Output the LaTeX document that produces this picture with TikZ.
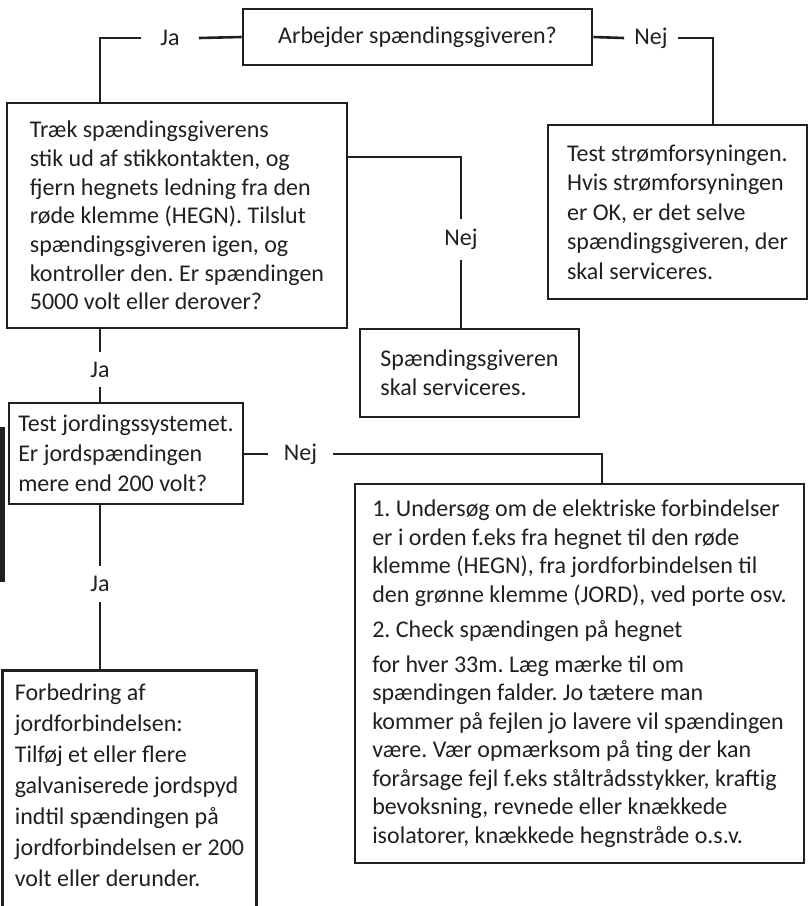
\documentclass[tikz,border=0pt]{standalone}
\usepackage{fontspec}
\setmainfont{Carlito}
\frenchspacing
\usetikzlibrary{positioning,calc}
\definecolor{ink}{HTML}{231F20}
\tikzset{
  every node/.style={font=\fontsize{24}{28.7}\selectfont,text=ink},
  leading/.style={font=\fontsize{24}{#1}\selectfont},
  answer/.style={inner xsep=9pt,inner ysep=8.5pt},
  box/.style={draw=ink,line width=2.6pt,align=left,inner sep=0pt}}
\begin{document}
\begin{tikzpicture}[x=1pt,y=-1pt,line width=2.6pt,draw=ink]
\useasboundingbox (0,0) rectangle (810,906);
\fill[ink] (0,427) rectangle (4.5,582);
% question on top and its two answers
\node[box,align=center,minimum width=349pt,minimum height=56pt] (ask) at (417.5,37) {Arbejder spændingsgiveren?};
\node[answer,inner xsep=18pt] (jaTop) at (170,38) {Ja};
\node[answer] (nejTop) at (651,38) {Nej};
\node[box,minimum width=340pt,minimum height=225pt] (unplug) at (177,215.5) {Træk spændingsgiverens\\stik ud af stikkontakten, og\\fjern hegnets ledning fra den\\røde klemme (HEGN). Tilslut\\spændingsgiveren igen, og\\kontroller den. Er spændingen\\5000 volt eller derover?};
\node[box,leading=29.5,minimum width=259pt,minimum height=174pt] (power) at (677.5,212) {Test strømforsyningen.\\Hvis strømforsyningen\\er OK, er det selve\\spændingsgiveren, der\\skal serviceres.};
\node[answer] (nejMid) at (461,239.5) {Nej};
\node[box,minimum width=219pt,minimum height=88pt] (service) at (469.5,373) {Spændingsgiveren\\skal serviceres.};
\node[answer] (jaMid) at (100,369.5) {Ja};
\node[box,leading=30,minimum width=234pt,minimum height=101pt] (earth) at (126,453.5) {Test jordingssystemet.\\Er jordspændingen\\mere end 200 volt?};
\node[answer,inner xsep=15pt] (nejLow) at (300.5,454) {Nej};
\node[box,leading=28.5,minimum width=449pt,minimum height=379pt] (check) at (579.5,673.5) {1. Undersøg om de elektriske forbindelser\\er i orden f.eks fra hegnet til den røde\\klemme (HEGN), fra jordforbindelsen til\\den grønne klemme (JORD), ved porte osv.\\[6.5pt]2. Check spændingen på hegnet\\[6.5pt]for hver 33m. Læg mærke til om\\spændingen falder. Jo tætere man\\kommer på fejlen jo lavere vil spændingen\\være. Vær opmærksom på ting der kan\\forårsage fejl f.eks ståltrådsstykker, kraftig\\bevoksning, revnede eller knækkede\\isolatorer, knækkede hegnstråde o.s.v.};
\node[answer] (jaLow) at (100,584) {Ja};
\node[align=left,leading=31,inner sep=0pt,minimum width=251pt,minimum height=226pt] (improve) at (129.5,785) {Forbedring af\\jordforbindelsen:\\Tilføj et eller flere\\galvaniserede jordspyd\\indtil spændingen på\\jordforbindelsen er 200\\volt eller derunder.};
% last box runs off the page at the bottom
\draw ([yshift=-30pt]improve.south west) -- (improve.north west) -- (improve.north east) -- ([yshift=-30pt]improve.south east);
% connectors
\draw (ask.west) -- (jaTop.east);
\draw (jaTop.west) -| (unplug.north -| jaMid);
\draw (ask.east) -- (nejTop.west);
\draw (nejTop.east) -| ([xshift=35.5pt]power.north);
\draw ([yshift=58.5pt]unplug.east) -| (nejMid.north);
\draw (nejMid.south) -- (service.north -| nejMid);
\draw (unplug.south -| jaMid) -- (jaMid.north);
\draw (jaMid.south) -- (earth.north -| jaMid);
\draw (earth.east |- nejLow) -- (nejLow.west);
\draw (nejLow.east) -| ([xshift=22.5pt]check.north);
\draw (earth.south -| jaLow) -- (jaLow.north);
\draw (jaLow.south) -- (improve.north -| jaLow);
\end{tikzpicture}
\end{document}
